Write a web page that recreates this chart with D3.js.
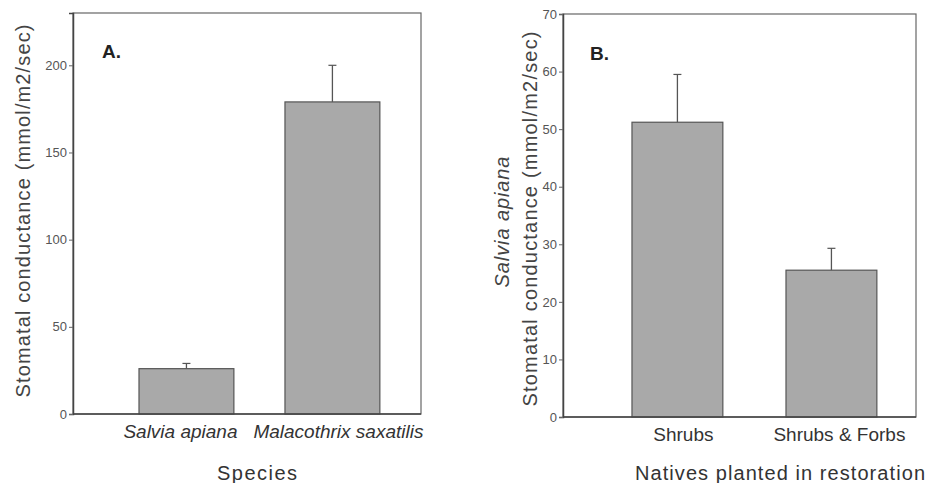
<!DOCTYPE html>
<html>
<head>
<meta charset="utf-8">
<script src="https://cdn.jsdelivr.net/npm/d3@7"></script>
<style>
  html, body { margin: 0; padding: 0; background: #fff; }
  svg { display: block; font-family: "Liberation Sans", Arial, Helvetica, sans-serif; }
  .tick text { fill: #555; font-size: 13px; }
  .tick line { stroke: #666; }
  .domain { stroke: #444; }
</style>
</head>
<body>
<svg id="chart" width="927" height="483"></svg>
<script>
// panel A data
const speciesA = ['Salvia apiana', 'Malacothrix saxatilis'];
const meansA = [26, 179];
const errorsA = [3, 21];
const ticksA = [0, 50, 100, 150, 200];

// panel B data
const nativesB = ['Shrubs', 'Shrubs & Forbs'];
const meansB = [51.2, 25.5];
const errorsB = [8.3, 3.8];
const ticksB = [0, 10, 20, 30, 40, 50, 60, 70];

const svg = d3.select('#chart');

function drawPanel(cfg) {
    const g = svg.append('g');
    const { left, right, top, bottom } = cfg.box;

    const x = d3.scaleBand()
        .domain(cfg.cats)
        .range([left, right])
        .paddingInner(cfg.padInner)
        .paddingOuter(cfg.padOuter)
        .align(cfg.align);

    const y = d3.scaleLinear()
        .domain([0, cfg.yMax])
        .range([bottom, top]);

    // frame
    g.append('rect')
        .attr('x', left).attr('y', top)
        .attr('width', right - left).attr('height', bottom - top)
        .attr('fill', 'none')
        .attr('stroke', '#666')
        .attr('stroke-width', 1.2);

    const data = cfg.cats.map((c, i) => ({ cat: c, mean: cfg.means[i], err: cfg.errors[i] }));

    // error bars (upper only)
    g.selectAll('.err')
        .data(data)
        .enter()
        .append('line')
        .attr('class', 'err')
        .attr('x1', d => x(d.cat) + x.bandwidth() / 2)
        .attr('x2', d => x(d.cat) + x.bandwidth() / 2)
        .attr('y1', d => y(d.mean))
        .attr('y2', d => y(d.mean + d.err))
        .attr('stroke', '#555')
        .attr('stroke-width', 1.3);

    g.selectAll('.cap')
        .data(data)
        .enter()
        .append('line')
        .attr('class', 'cap')
        .attr('x1', d => x(d.cat) + x.bandwidth() / 2 - 4)
        .attr('x2', d => x(d.cat) + x.bandwidth() / 2 + 4)
        .attr('y1', d => y(d.mean + d.err))
        .attr('y2', d => y(d.mean + d.err))
        .attr('stroke', '#555')
        .attr('stroke-width', 1.2);

    // bars
    g.selectAll('.bar')
        .data(data)
        .enter()
        .append('rect')
        .attr('class', 'bar')
        .attr('x', d => x(d.cat))
        .attr('y', d => y(d.mean))
        .attr('width', x.bandwidth())
        .attr('height', d => y(0) - y(d.mean))
        .attr('fill', '#a9a9a9')
        .attr('stroke', '#555')
        .attr('stroke-width', 1.2);

    // axes
    g.append('g')
        .attr('transform', `translate(${left},0)`)
        .call(d3.axisLeft(y).tickValues(cfg.ticks).tickSize(4).tickPadding(2))
        .call(a => a.select('.domain').attr('stroke-width', 1.5));

    g.append('line')
        .attr('x1', left).attr('x2', right)
        .attr('y1', bottom).attr('y2', bottom)
        .attr('stroke', '#444')
        .attr('stroke-width', 1.5);

    // category labels
    g.selectAll('.cat')
        .data(cfg.cats)
        .enter()
        .append('text')
        .attr('class', 'cat')
        .attr('x', (d, i) => x(d) + x.bandwidth() / 2 + cfg.catShift[i])
        .attr('y', bottom + 24)
        .attr('text-anchor', 'middle')
        .attr('font-size', 19)
        .attr('font-style', cfg.catItalic ? 'italic' : 'normal')
        .attr('fill', '#333')
        .text(d => d);

    // panel letter
    g.append('text')
        .attr('x', cfg.letterX).attr('y', cfg.letterY)
        .attr('font-size', 19)
        .attr('font-weight', 'bold')
        .attr('fill', '#222')
        .text(cfg.letter);

    // x title
    g.append('text')
        .attr('x', cfg.xTitleX).attr('y', 480)
        .attr('text-anchor', 'middle')
        .attr('font-size', 20)
        .attr('fill', '#333')
        .attr('textLength', cfg.xTitleLen)
        .text(cfg.xTitle);

    // y title lines
    cfg.yTitles.forEach(t => {
        g.append('text')
            .attr('transform', `translate(${t.x},${t.y}) rotate(-90)`)
            .attr('text-anchor', 'middle')
            .attr('font-size', 20)
            .attr('font-style', t.italic ? 'italic' : 'normal')
            .attr('fill', '#444')
            .attr('textLength', t.len)
            .text(t.text);
    });
}

drawPanel({
    box: { left: 73, right: 421, top: 13, bottom: 414 },
    cats: speciesA, means: meansA, errors: errorsA, ticks: ticksA,
    yMax: 230, padInner: 0.35, padOuter: 0.367, align: 0.616,
    catItalic: true, catShift: [-6, 6],
    letter: 'A.', letterX: 102, letterY: 58,
    xTitle: 'Species', xTitleX: 257, xTitleLen: 80,
    yTitles: [
        { text: 'Stomatal conductance (mmol/m2/sec)', x: 30, y: 211, len: 373 }
    ]
});

drawPanel({
    box: { left: 563, right: 916, top: 14, bottom: 417 },
    cats: nativesB, means: meansB, errors: errorsB, ticks: ticksB,
    yMax: 70, padInner: 0.41, padOuter: 0.351, align: 0.638,
    catItalic: false, catShift: [6, 8],
    letter: 'B.', letterX: 590, letterY: 60,
    xTitle: 'Natives planted in restoration', xTitleX: 780, xTitleLen: 290,
    yTitles: [
        { text: 'Salvia apiana', italic: true, x: 509, y: 222, len: 131 },
        { text: 'Stomatal conductance (mmol/m2/sec)', x: 537, y: 219, len: 375 }
    ]
});
</script>
</body>
</html>
